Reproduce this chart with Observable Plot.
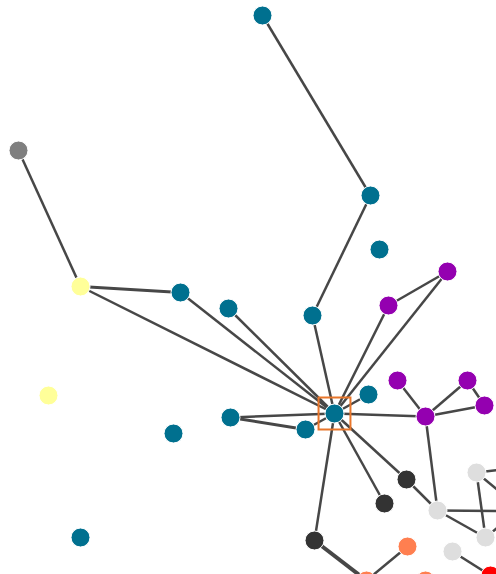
<!DOCTYPE html>
<html>
<head>
<meta charset="utf-8">
<script src="https://cdn.jsdelivr.net/npm/d3@7"></script>
<script src="https://cdn.jsdelivr.net/npm/@observablehq/plot@0.6"></script>
<style>
  html, body { margin: 0; padding: 0; background: #fff; }
  #chart svg { display: block; }
</style>
</head>
<body>
<div id="chart"></div>
<script>
// Node layout (pixel coordinates of the force layout) and groups
const nodeX = [262, 370, 379, 180, 228, 312, 368, 334, 230, 305, 173, 80,
               18, 80, 48,
               388, 447, 397, 467, 484, 425,
               406, 384, 314,
               476, 437, 485, 452,
               407, 366, 425, 490,
               560, 560, 530, 540];
const nodeY = [15, 195, 249, 292, 308, 315, 394, 413, 417, 429, 433, 537,
               150, 286, 395,
               305, 271, 380, 380, 405, 416,
               479, 503, 540,
               472, 510, 537, 551,
               546, 580, 580, 575,
               462, 511, 500, 525];
const nodeGroup = ["teal","teal","teal","teal","teal","teal","teal","teal","teal","teal","teal","teal",
                   "gray","yellow","yellow",
                   "purple","purple","purple","purple","purple","purple",
                   "dark","dark","dark",
                   "light","light","light","light",
                   "orange","orange","orange","red",
                   "light","light","light","light"];
const groupNames  = ["teal", "gray", "yellow", "purple", "dark", "light", "orange", "red"];
const groupColors = ["#00708f", "#7f7f7f", "#ffff99", "#9400b0", "#333333", "#dedede", "#ff7f50", "#ff0000"];

const edgeSource = [0, 1, 12, 13, 13, 3, 4, 5, 15, 16, 15, 6, 8, 8, 9, 7, 17, 20, 18, 20, 7, 21, 7, 20, 7, 23, 28, 25, 25, 24, 24, 26, 27, 24];
const edgeTarget = [1, 5, 13, 3, 7, 7, 7, 7, 7, 7, 16, 7, 7, 9, 7, 20, 20, 18, 19, 19, 21, 25, 22, 25, 23, 29, 29, 33, 26, 26, 32, 34, 31, 35];
const edgeWidth  = [2.5, 2.5, 2.5, 3, 2.5, 2.5, 2.5, 2.5, 2.5, 2.5, 2.5, 2.5, 2.5, 3, 2.5, 2.5, 2.5, 2.5, 2.5, 2.5, 2.5, 2.5, 2.5, 2.5, 2.5, 4, 2.5, 2.5, 2.5, 2.5, 2.5, 2.5, 2.5, 2.5];

const highlighted = [7];

const nodes = nodeX.map((x, i) => ({x, y: nodeY[i], group: nodeGroup[i]}));
const edges = edgeSource.map((s, i) => ({
  x1: nodeX[s], y1: nodeY[s], x2: nodeX[edgeTarget[i]], y2: nodeY[edgeTarget[i]], w: edgeWidth[i]
}));
const hl = highlighted.map(i => nodes[i]);

const plot = Plot.plot({
  width: 496,
  height: 574,
  margin: 0,
  x: {domain: [0, 496], range: [0, 496], axis: null},
  y: {domain: [0, 574], range: [0, 574], axis: null},
  color: {domain: groupNames, range: groupColors},
  marks: [
    Plot.link(edges, {x1: "x1", y1: "y1", x2: "x2", y2: "y2", stroke: "#474747", strokeWidth: "w", clip: true}),
    Plot.dot(nodes, {x: "x", y: "y", r: 9.5, fill: "group", stroke: "#fff", strokeWidth: 1, clip: true}),
    Plot.dot(hl, {x: "x", y: "y", symbol: "square", r: 18, fill: "none", stroke: "#e8762b", strokeWidth: 2})
  ]
});
document.getElementById("chart").appendChild(plot);
</script>
</body>
</html>
